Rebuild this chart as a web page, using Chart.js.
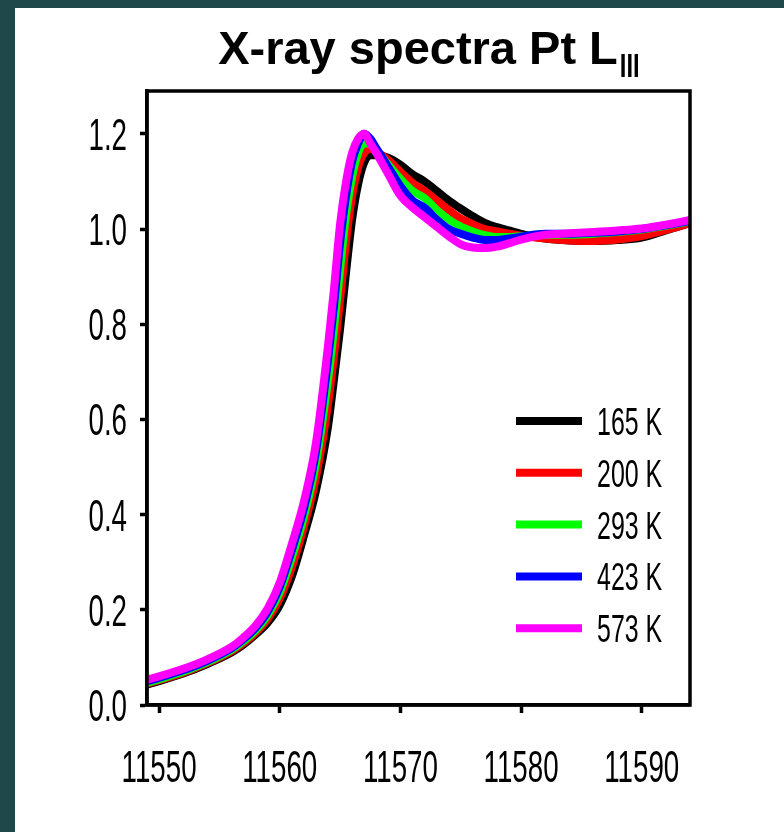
<!DOCTYPE html>
<html lang="en">
<head>
  <meta charset="UTF-8">
  <title>X-ray spectra Pt LIII</title>
  <script src="https://cdn.jsdelivr.net/npm/chart.js"></script>
  <style>
    html, body { margin: 0; padding: 0; }
    body { width: 784px; height: 832px; background: #fff; position: relative; overflow: hidden; }
    .frame { position: absolute; left: 0; top: 0; width: 784px; height: 832px;
             box-sizing: border-box; border-left: 15px solid #1f484b; border-top: 8px solid #1f484b; }
    #wrap { position: absolute; left: 0; top: 0; width: 784px; height: 832px; }
  </style>
</head>
<body>
  <div class="frame"></div>
  <div id="wrap"><canvas id="spectraChart"></canvas></div>
  <script>
    // photon energy (eV)
    const energy = [11549, 11550, 11552, 11554, 11556, 11557, 11558, 11559, 11560, 11561, 11562, 11563,
      11564, 11564.5, 11565, 11565.5, 11566, 11566.5, 11567, 11567.5, 11568, 11569, 11570, 11571,
      11572, 11573, 11574, 11575, 11576, 11577, 11578, 11579, 11580, 11582, 11584, 11586, 11588,
      11590, 11592, 11594];

    const t165 = [0.043, 0.05, 0.066, 0.086, 0.11, 0.127, 0.148, 0.173, 0.21, 0.27, 0.355, 0.45,
      0.585, 0.685, 0.79, 0.91, 1.02, 1.095, 1.14, 1.155, 1.155, 1.15, 1.135, 1.115,
      1.10, 1.08, 1.06, 1.043, 1.027, 1.013, 1.004, 0.997, 0.99, 0.98, 0.976, 0.975, 0.977,
      0.982, 0.997, 1.013];
    const t200 = [0.045, 0.052, 0.068, 0.088, 0.113, 0.13, 0.152, 0.181, 0.224, 0.29, 0.375, 0.478,
      0.632, 0.735, 0.851, 0.975, 1.07, 1.13, 1.16, 1.168, 1.163, 1.145, 1.12, 1.097,
      1.08, 1.06, 1.04, 1.022, 1.01, 1.0, 0.995, 0.99, 0.986, 0.98, 0.976, 0.975, 0.978,
      0.985, 0.998, 1.012];
    const t293 = [0.047, 0.054, 0.07, 0.09, 0.116, 0.134, 0.157, 0.189, 0.237, 0.31, 0.395, 0.508,
      0.683, 0.791, 0.915, 1.03, 1.11, 1.16, 1.18, 1.178, 1.165, 1.135, 1.105, 1.08,
      1.065, 1.04, 1.02, 1.005, 0.995, 0.987, 0.983, 0.983, 0.985, 0.988, 0.988, 0.99, 0.994,
      0.999, 1.007, 1.016];
    const t423 = [0.05, 0.057, 0.073, 0.093, 0.119, 0.138, 0.162, 0.196, 0.248, 0.325, 0.412, 0.532,
      0.724, 0.839, 0.97, 1.07, 1.142, 1.18, 1.20, 1.19, 1.17, 1.13, 1.09, 1.06,
      1.045, 1.02, 1.0, 0.99, 0.982, 0.977, 0.977, 0.98, 0.984, 0.99, 0.99, 0.992, 0.995,
      1.0, 1.008, 1.017];
    const t573 = [0.053, 0.06, 0.076, 0.096, 0.122, 0.142, 0.167, 0.203, 0.257, 0.338, 0.427, 0.55,
      0.755, 0.875, 1.01, 1.10, 1.16, 1.19, 1.20, 1.18, 1.16, 1.115, 1.07, 1.045,
      1.025, 1.005, 0.985, 0.968, 0.961, 0.960, 0.963, 0.970, 0.978, 0.988, 0.991, 0.994, 0.997,
      1.001, 1.009, 1.019];

    const seriesNames = ['165 K', '200 K', '293 K', '423 K', '573 K'];
    const seriesValues = [t165, t200, t293, t423, t573];
    const seriesColors = ['#000000', '#ff0000', '#00ff00', '#0000ff', '#ff00ff'];

    const xTicks = [11550, 11560, 11570, 11580, 11590];
    const yTicks = [0.0, 0.2, 0.4, 0.6, 0.8, 1.0, 1.2];

    const sansFont = "'Liberation Sans', Arial, sans-serif";

    const datasets = seriesNames.map((name, i) => ({
      label: name,
      data: energy.map((e, j) => ({ x: e, y: seriesValues[i][j] })),
      borderColor: seriesColors[i],
      backgroundColor: seriesColors[i],
      borderWidth: 8,
      pointRadius: 0,
      cubicInterpolationMode: 'monotone',
      order: seriesNames.length - i
    }));

    // the original uses a tall condensed face, so squeeze text horizontally
    function narrowText(ctx, text, x, y, align, size, sx, weight) {
      ctx.save();
      ctx.translate(x, y);
      ctx.scale(sx, 1);
      ctx.font = (weight || '') + ' ' + size + 'px ' + sansFont;
      ctx.textAlign = align;
      ctx.textBaseline = 'alphabetic';
      ctx.fillStyle = '#000';
      ctx.fillText(text, 0, 0);
      ctx.restore();
    }

    // title with subscript, frame box, tick labels and in-plot legend
    const decorations = {
      id: 'decorations',
      afterDraw(chart) {
        const { ctx, chartArea: a, scales } = chart;
        ctx.save();
        ctx.strokeStyle = '#000';
        ctx.lineWidth = 3.5;
        ctx.strokeRect(a.left, a.top, a.right - a.left, a.bottom - a.top);

        // tick labels
        scales.x.ticks.forEach(t => {
          narrowText(ctx, String(t.value), scales.x.getPixelForValue(t.value), a.bottom + 77, 'center', 44, 0.63);
        });
        scales.y.ticks.forEach(t => {
          narrowText(ctx, t.value.toFixed(1), a.left - 20, scales.y.getPixelForValue(t.value) + 16, 'right', 44, 0.63);
        });

        // legend
        const lx = a.left + 369, ly = a.top + 330, gap = 51.8;
        chart.data.datasets.forEach((ds, i) => {
          const y = ly + i * gap;
          ctx.strokeStyle = ds.borderColor;
          ctx.lineWidth = 8;
          ctx.beginPath();
          ctx.moveTo(lx, y);
          ctx.lineTo(lx + 66, y);
          ctx.stroke();
          narrowText(ctx, ds.label, lx + 81, y + 14, 'left', 39, 0.64);
        });

        // title
        ctx.font = "bold 47px " + sansFont;
        const main = 'X-ray spectra Pt L';
        const w = ctx.measureText(main).width;
        const x0 = 431 - (w + 26) / 2;
        narrowText(ctx, main, x0, 64, 'left', 47, 1, 'bold');
        narrowText(ctx, 'III', x0 + w + 2, 77, 'left', 33, 0.72, 'bold');
        ctx.restore();
      }
    };

    new Chart(document.getElementById('spectraChart'), {
      type: 'line',
      data: { datasets },
      options: {
        responsive: true,
        maintainAspectRatio: false,
        animation: false,
        layout: { padding: { top: 91, right: 94, bottom: 0, left: 0 } },
        plugins: { legend: { display: false }, title: { display: false }, tooltip: { enabled: false } },
        scales: {
          x: {
            type: 'linear',
            min: 11549,
            max: 11594,
            afterBuildTicks: s => { s.ticks = xTicks.map(v => ({ value: v })); },
            afterFit: s => { s.height = 127; },
            border: { display: true, color: '#000', width: 3.5 },
            grid: { drawOnChartArea: false, drawTicks: true, tickLength: 8, tickWidth: 3.5, color: '#000' },
            ticks: { display: false }
          },
          y: {
            min: 0,
            max: 1.29,
            afterBuildTicks: s => { s.ticks = yTicks.map(v => ({ value: v })); },
            afterFit: s => { s.width = 147; },
            border: { display: true, color: '#000', width: 3.5 },
            grid: { drawOnChartArea: false, drawTicks: true, tickLength: 7, tickWidth: 3.5, color: '#000' },
            ticks: { display: false }
          }
        }
      },
      plugins: [decorations]
    });
  </script>
</body>
</html>
